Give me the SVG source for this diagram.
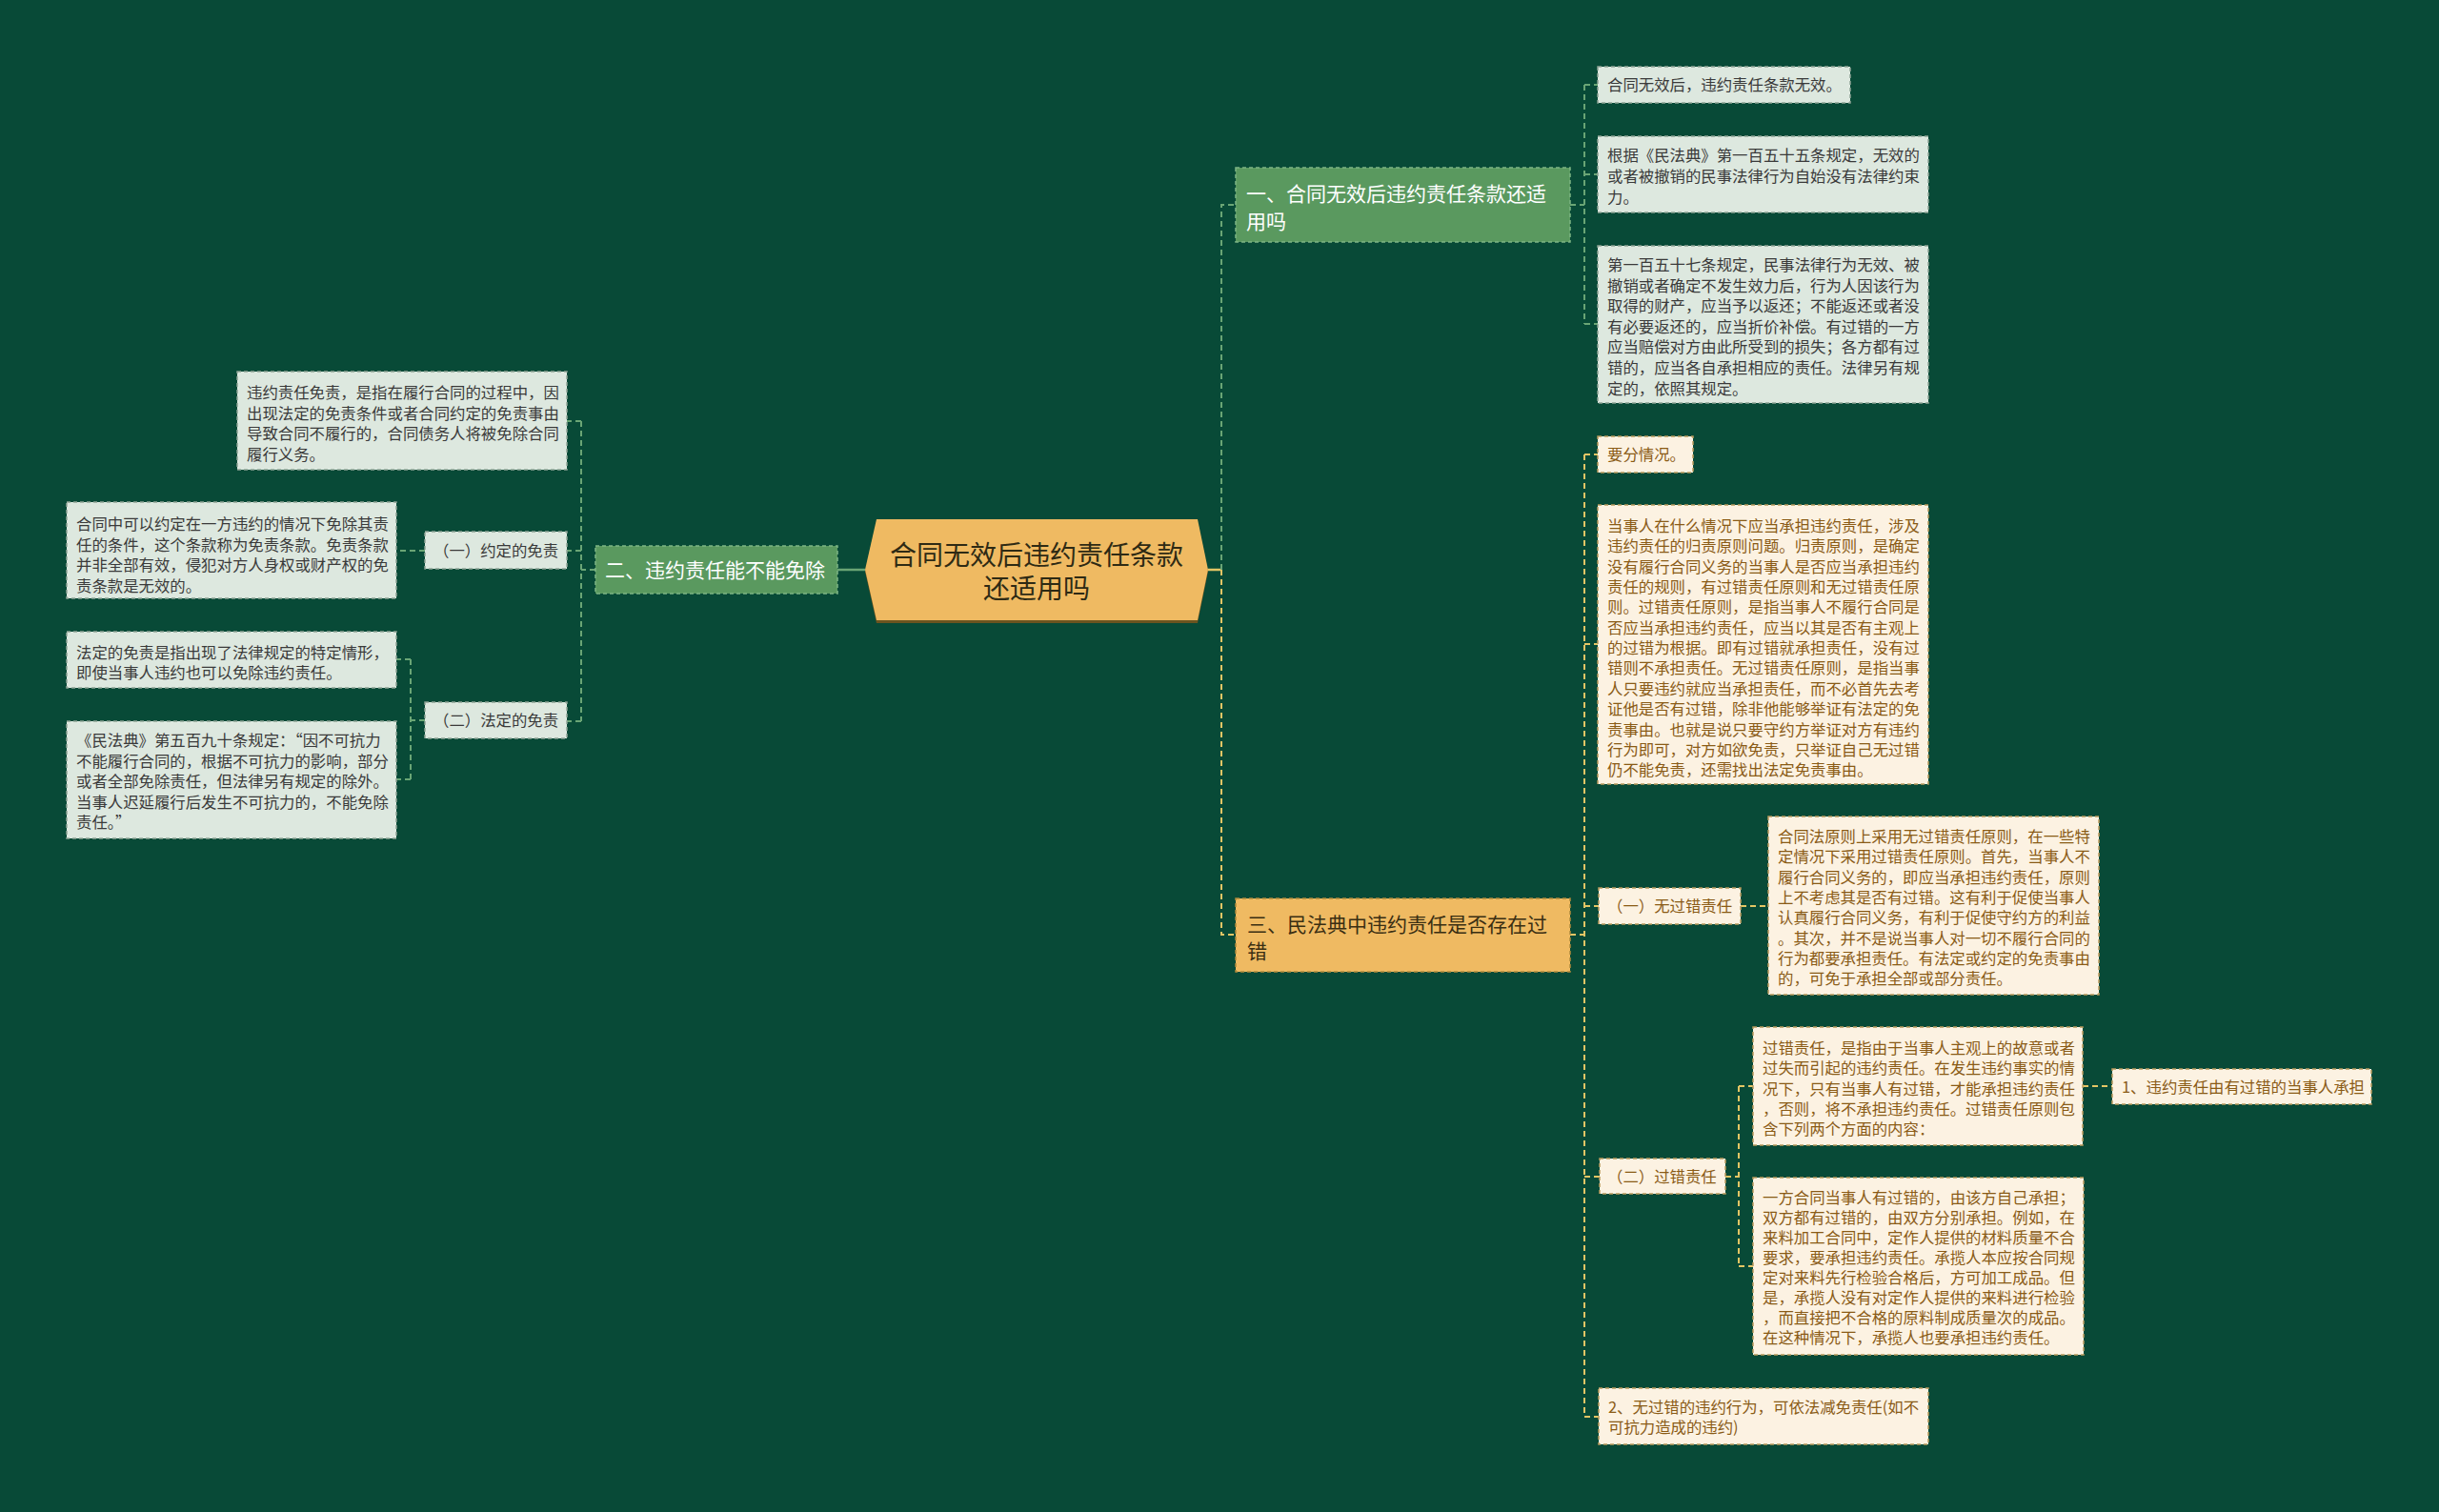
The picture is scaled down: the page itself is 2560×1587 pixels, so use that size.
<svg xmlns="http://www.w3.org/2000/svg" width="2560" height="1587" viewBox="0 0 2560 1587">
<style>
text{font-family:"Noto Sans CJK SC","Noto Sans",sans-serif;}
.lg{fill:#DDE8DF;stroke:#8FA497;stroke-width:1.5;stroke-dasharray:4 3;}
.ly{fill:#FCF2E2;stroke:#B89A5E;stroke-width:1.5;stroke-dasharray:4 3;}
.tg{fill:#3A3A3A;font-size:16.4px;}
.ty{fill:#8A5B16;font-size:16.4px;}
.cg{fill:none;stroke:#6AA575;stroke-width:2;stroke-dasharray:6 4;}
.cy{fill:none;stroke:#E3C565;stroke-width:2;stroke-dasharray:6 4;}
.bt{font-size:21px;}
</style>
<rect width="2560" height="1587" fill="#084A37"/>

<g id="connectors">
  <path d="M908 598 H879" stroke="#6AA575" stroke-width="2.5" fill="none"/>
  <path d="M1268 598 H1282" stroke="#E3C565" stroke-width="2.5" fill="none"/>
  <path class="cg" d="M1282 598 V215 H1297"/>
  <path class="cy" d="M1282 598 V981 H1297"/>
  <path class="cg" d="M1648 215 H1663 M1663 89 V340 M1663 89 H1677 M1663 183 H1677 M1663 340 H1677"/>
  <path class="cy" d="M1648 981 H1663 M1663 477 V1487 M1663 477 H1677 M1663 676 H1677 M1663 951 H1678 M1663 1235 H1679 M1663 1487 H1678"/>
  <path class="cy" d="M1827 951 H1856"/>
  <path class="cy" d="M1811 1235 H1825 M1825 1140 V1329 M1825 1140 H1840 M1825 1329 H1840"/>
  <path class="cy" d="M2186 1140 H2217"/>
  <path class="cg" d="M625 598 H610 M610 442 V757 M610 442 H595 M610 578 H595 M610 757 H595"/>
  <path class="cg" d="M446 578 H416"/>
  <path class="cg" d="M446 756 H431 M431 692 V818 M431 692 H416 M431 818 H416"/>
</g>

<g id="center">
  <polygon points="908,600 920,547 1257,547 1268,600 1257,654 920,654" fill="#6B5420"/>
  <polygon points="908,598 920,545 1257,545 1268,598 1257,651 920,651" fill="#EFBA62"/>
  <text x="1088" y="593" text-anchor="middle" font-size="28" fill="#2E2A14">合同无效后违约责任条款</text>
  <text x="1088" y="628" text-anchor="middle" font-size="28" fill="#2E2A14">还适用吗</text>
</g>

<g id="branch1">
  <rect x="1297" y="176" width="351" height="78" fill="#5A995F" stroke="#7DB585" stroke-width="1.5" stroke-dasharray="4 3"/>
  <text class="bt" x="1308" y="211" fill="#FFFFFF">一、合同无效后违约责任条款还适</text>
  <text class="bt" x="1308" y="240" fill="#FFFFFF">用吗</text>
</g>
<g id="branch2">
  <rect x="625" y="573" width="254" height="50" fill="#5A995F" stroke="#7DB585" stroke-width="1.5" stroke-dasharray="4 3"/>
  <text class="bt" x="635" y="606" fill="#FFFFFF">二、违约责任能不能免除</text>
</g>
<g id="branch3">
  <rect x="1297" y="943" width="351" height="77" fill="#EFBA62" stroke="#B08A3C" stroke-width="1.5" stroke-dasharray="4 3"/>
  <text class="bt" x="1309" y="978" fill="#3A2E12">三、民法典中违约责任是否存在过</text>
  <text class="bt" x="1309" y="1006" fill="#3A2E12">错</text>
</g>

<g id="n1a">
  <rect class="lg" x="1677" y="70" width="265" height="38"/>
  <text class="tg" x="1687" y="95">合同无效后，违约责任条款无效。</text>
</g>
<g id="n1b">
  <rect class="lg" x="1677" y="143" width="347" height="80"/>
  <text class="tg" x="1687" y="169">根据《民法典》第一百五十五条规定，无效的</text>
  <text class="tg" x="1687" y="191">或者被撤销的民事法律行为自始没有法律约束</text>
  <text class="tg" x="1687" y="213">力。</text>
</g>
<g id="n1c">
  <rect class="lg" x="1677" y="258" width="347" height="165"/>
  <text class="tg" x="1687" y="284">第一百五十七条规定，民事法律行为无效、被</text>
  <text class="tg" x="1687" y="305.6">撤销或者确定不发生效力后，行为人因该行为</text>
  <text class="tg" x="1687" y="327.2">取得的财产，应当予以返还；不能返还或者没</text>
  <text class="tg" x="1687" y="348.8">有必要返还的，应当折价补偿。有过错的一方</text>
  <text class="tg" x="1687" y="370.4">应当赔偿对方由此所受到的损失；各方都有过</text>
  <text class="tg" x="1687" y="392">错的，应当各自承担相应的责任。法律另有规</text>
  <text class="tg" x="1687" y="413.6">定的，依照其规定。</text>
</g>

<g id="n3a">
  <rect class="ly" x="1677" y="458" width="100" height="38"/>
  <text class="ty" x="1687" y="483">要分情况。</text>
</g>
<g id="n3b">
  <rect class="ly" x="1677" y="530" width="347" height="293"/>
  <text class="ty" x="1687" y="558">当事人在什么情况下应当承担违约责任，涉及</text>
  <text class="ty" x="1687" y="579.35">违约责任的归责原则问题。归责原则，是确定</text>
  <text class="ty" x="1687" y="600.7">没有履行合同义务的当事人是否应当承担违约</text>
  <text class="ty" x="1687" y="622.05">责任的规则，有过错责任原则和无过错责任原</text>
  <text class="ty" x="1687" y="643.4">则。过错责任原则，是指当事人不履行合同是</text>
  <text class="ty" x="1687" y="664.75">否应当承担违约责任，应当以其是否有主观上</text>
  <text class="ty" x="1687" y="686.1">的过错为根据。即有过错就承担责任，没有过</text>
  <text class="ty" x="1687" y="707.45">错则不承担责任。无过错责任原则，是指当事</text>
  <text class="ty" x="1687" y="728.8">人只要违约就应当承担责任，而不必首先去考</text>
  <text class="ty" x="1687" y="750.15">证他是否有过错，除非他能够举证有法定的免</text>
  <text class="ty" x="1687" y="771.5">责事由。也就是说只要守约方举证对方有违约</text>
  <text class="ty" x="1687" y="792.85">行为即可，对方如欲免责，只举证自己无过错</text>
  <text class="ty" x="1687" y="814.2">仍不能免责，还需找出法定免责事由。</text>
</g>
<g id="n3c">
  <rect class="ly" x="1678" y="932" width="149" height="38"/>
  <text class="ty" x="1687" y="957">（一）无过错责任</text>
</g>
<g id="n3c1">
  <rect class="ly" x="1856" y="857" width="347" height="187"/>
  <text class="ty" x="1866" y="884">合同法原则上采用无过错责任原则，在一些特</text>
  <text class="ty" x="1866" y="905.3">定情况下采用过错责任原则。首先，当事人不</text>
  <text class="ty" x="1866" y="926.6">履行合同义务的，即应当承担违约责任，原则</text>
  <text class="ty" x="1866" y="947.9">上不考虑其是否有过错。这有利于促使当事人</text>
  <text class="ty" x="1866" y="969.2">认真履行合同义务，有利于促使守约方的利益</text>
  <text class="ty" x="1866" y="990.5">。其次，并不是说当事人对一切不履行合同的</text>
  <text class="ty" x="1866" y="1011.8">行为都要承担责任。有法定或约定的免责事由</text>
  <text class="ty" x="1866" y="1033.1">的，可免于承担全部或部分责任。</text>
</g>
<g id="n3d">
  <rect class="ly" x="1679" y="1216" width="132" height="37"/>
  <text class="ty" x="1687" y="1241">（二）过错责任</text>
</g>
<g id="n3d1">
  <rect class="ly" x="1840" y="1078" width="346" height="124"/>
  <text class="ty" x="1850" y="1106">过错责任，是指由于当事人主观上的故意或者</text>
  <text class="ty" x="1850" y="1127.3">过失而引起的违约责任。在发生违约事实的情</text>
  <text class="ty" x="1850" y="1148.6">况下，只有当事人有过错，才能承担违约责任</text>
  <text class="ty" x="1850" y="1169.9">，否则，将不承担违约责任。过错责任原则包</text>
  <text class="ty" x="1850" y="1191.2">含下列两个方面的内容：</text>
</g>
<g id="n3d1a">
  <rect class="ly" x="2217" y="1122" width="272" height="37"/>
  <text class="ty" x="2227" y="1147">1、违约责任由有过错的当事人承担</text>
</g>
<g id="n3d2">
  <rect class="ly" x="1840" y="1236" width="347" height="186"/>
  <text class="ty" x="1850" y="1263">一方合同当事人有过错的，由该方自己承担；</text>
  <text class="ty" x="1850" y="1284">双方都有过错的，由双方分别承担。例如，在</text>
  <text class="ty" x="1850" y="1305">来料加工合同中，定作人提供的材料质量不合</text>
  <text class="ty" x="1850" y="1326">要求，要承担违约责任。承揽人本应按合同规</text>
  <text class="ty" x="1850" y="1347">定对来料先行检验合格后，方可加工成品。但</text>
  <text class="ty" x="1850" y="1368">是，承揽人没有对定作人提供的来料进行检验</text>
  <text class="ty" x="1850" y="1389">，而直接把不合格的原料制成质量次的成品。</text>
  <text class="ty" x="1850" y="1410">在这种情况下，承揽人也要承担违约责任。</text>
</g>
<g id="n3e">
  <rect class="ly" x="1678" y="1457" width="346" height="59"/>
  <text class="ty" x="1688" y="1483">2、无过错的违约行为，可依法减免责任(如不</text>
  <text class="ty" x="1688" y="1504">可抗力造成的违约)</text>
</g>

<g id="n2a">
  <rect class="lg" x="249" y="390" width="346" height="103"/>
  <text class="tg" x="259" y="418">违约责任免责，是指在履行合同的过程中，因</text>
  <text class="tg" x="259" y="439.5">出现法定的免责条件或者合同约定的免责事由</text>
  <text class="tg" x="259" y="461">导致合同不履行的，合同债务人将被免除合同</text>
  <text class="tg" x="259" y="482.5">履行义务。</text>
</g>
<g id="n2b">
  <rect class="lg" x="446" y="558" width="149" height="39"/>
  <text class="tg" x="455" y="584">（一）约定的免责</text>
</g>
<g id="n2b1">
  <rect class="lg" x="70" y="527" width="346" height="101"/>
  <text class="tg" x="80" y="556">合同中可以约定在一方违约的情况下免除其责</text>
  <text class="tg" x="80" y="577.5">任的条件，这个条款称为免责条款。免责条款</text>
  <text class="tg" x="80" y="599">并非全部有效，侵犯对方人身权或财产权的免</text>
  <text class="tg" x="80" y="620.5">责条款是无效的。</text>
</g>
<g id="n2c">
  <rect class="lg" x="446" y="737" width="149" height="38"/>
  <text class="tg" x="455" y="762">（二）法定的免责</text>
</g>
<g id="n2c1">
  <rect class="lg" x="70" y="663" width="346" height="59"/>
  <text class="tg" x="80" y="691">法定的免责是指出现了法律规定的特定情形，</text>
  <text class="tg" x="80" y="712">即使当事人违约也可以免除违约责任。</text>
</g>
<g id="n2c2">
  <rect class="lg" x="70" y="757" width="346" height="123"/>
  <text class="tg" x="80" y="783">《民法典》第五百九十条规定：“因不可抗力</text>
  <text class="tg" x="80" y="804.5">不能履行合同的，根据不可抗力的影响，部分</text>
  <text class="tg" x="80" y="826">或者全部免除责任，但法律另有规定的除外。</text>
  <text class="tg" x="80" y="847.5">当事人迟延履行后发生不可抗力的，不能免除</text>
  <text class="tg" x="80" y="869">责任。”</text>
</g>
</svg>
